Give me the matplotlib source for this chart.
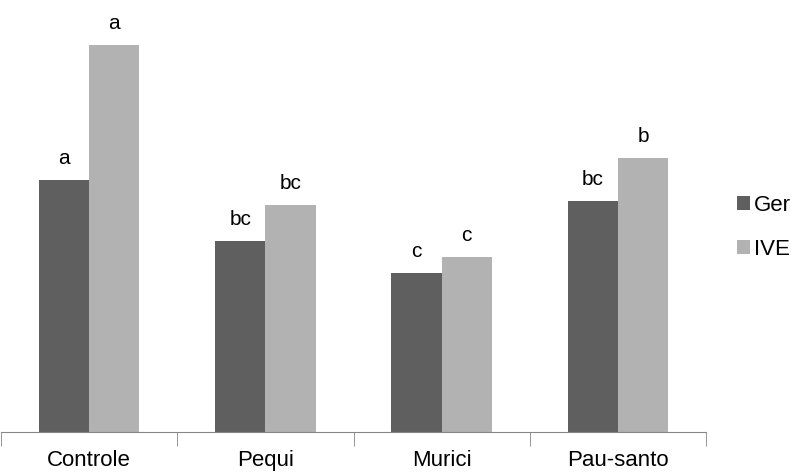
import matplotlib
matplotlib.use("Agg")
import matplotlib.pyplot as plt
import numpy as np

plt.rcParams["font.family"] = ["Liberation Sans", "DejaVu Sans"]

# data (arbitrary units, no y axis shown)
categories = ["Controle", "Pequi", "Murici", "Pau-santo"]
ger = [252, 191, 159, 231]
ive = [387, 227, 175, 274]
ger_letters = ["a", "bc", "c", "bc"]
ive_letters = ["a", "bc", "c", "b"]

dark = "#5f5f5f"
light = "#b2b2b2"

fig = plt.figure(figsize=(7.95, 4.73), dpi=100)
ax = fig.add_axes([1 / 795, 1 - 432 / 473, 705 / 795, 432 / 473])

x = np.arange(len(categories))
w = 0.285
b1 = ax.bar(x - w / 2, ger, w, color=dark, label="Ger")
b2 = ax.bar(x + w / 2, ive, w, color=light, label="IVE")

for bars, labs in ((b1, ger_letters), (b2, ive_letters)):
    for r, t in zip(bars, labs):
        ax.text(r.get_x() + r.get_width() / 2, r.get_height() + 12, t,
                ha="center", va="bottom", fontsize=15)

ax.set_xlim(-0.5, len(categories) - 0.5)
ax.set_ylim(0, 432)
for s in ("left", "right", "top"):
    ax.spines[s].set_visible(False)
ax.spines["bottom"].set_color("#868686")
ax.set_yticks([])
ax.set_xticks(x)
ax.set_xticklabels(categories, fontsize=16)
ax.tick_params(axis="x", length=0, pad=13)
ax.set_xticks(np.arange(len(categories) + 1) - 0.5, minor=True)
ax.tick_params(axis="x", which="minor", length=10, color="#868686")

fig.legend(handles=[b1, b2], loc="center left",
           bbox_to_anchor=(728 / 795, 1 - 227.5 / 473), borderaxespad=0,
           frameon=False, fontsize=16, handlelength=0.6, handleheight=0.6,
           handletextpad=0.15, labelspacing=1.05)

fig.savefig("out.png", dpi=100)
